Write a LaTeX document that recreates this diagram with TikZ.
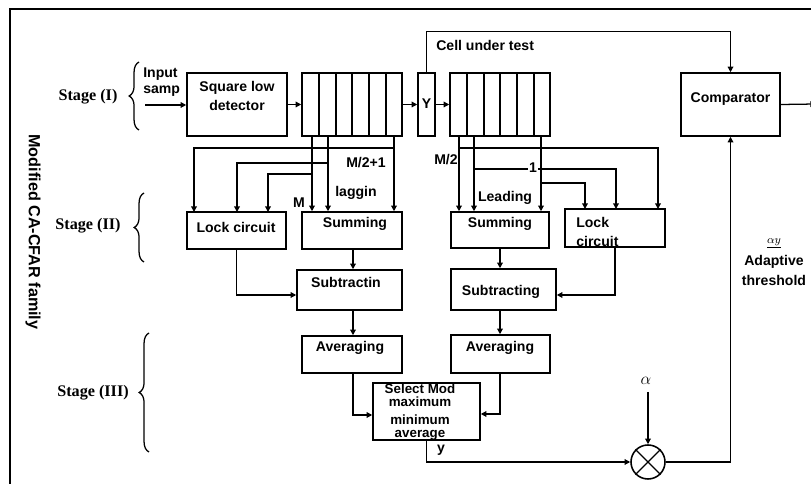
\documentclass[tikz,border=0pt]{standalone}
\usepackage{fontspec}
\setmainfont{Liberation Sans}
\newfontfamily\serifb{Liberation Serif}
\usetikzlibrary{arrows.meta,fit,decorations.pathreplacing}
\begin{document}
\begin{tikzpicture}[x=0.025cm,y=-0.025cm,
  box/.style={draw,line width=1.1pt,inner sep=0pt},
  lbl/.style={font=\fontsize{10}{11}\selectfont\bfseries,inner sep=0pt,align=center},
  stg/.style={font=\serifb\fontsize{11.5}{12}\selectfont\bfseries,inner sep=0pt},
  ln/.style={line width=0.9pt},
  arr/.style={ln,-{Triangle[length=4pt,width=4pt]}},
  brc/.style={decorate,decoration={brace,amplitude=7pt},line width=0.9pt}]
\useasboundingbox (0,0) rectangle (811,484);
\clip (0,0) rectangle (811,484);
% frame
\draw[line width=1.3pt] (10,490) -- (10,9) -- (820,9);
% title
\node[rotate=-90,font=\fontsize{11.5}{12}\selectfont\bfseries] (title) at (33,232) {Modified CA-CFAR family};
% stage labels and braces
\node[stg] (s1) at (88,97) {Stage (I)};
\node[stg] (s2) at (88,226) {Stage (II)};
\node[stg] (s3) at (93,393) {Stage (III)};
\draw[brc] (139,130) -- (139,62);
\draw[brc] (144,262) -- (144,193);
\draw[brc] (149,452) -- (149,333);
% stage I
\node[lbl,align=left,anchor=west] (inp) at (143,82) {Input\\samp};
\coordinate (inA) at (145,105);
\node[box,fit={(187,73)(287,136)}] (sq) {};
\node[lbl] (sqt) at (237,96) {Square low\\[2pt]detector};
\node[box,fit={(302,73)(402,136)}] (reg1) {};
\foreach \xx in {319,336,352,369,386} \draw[ln] (\xx,73) -- (\xx,136);
\node[box,fit={(418,73)(435,136)}] (Y) {};
\node[lbl] (Yt) at (426.5,104) {Y};
\node[box,fit={(450,73)(550,136)}] (reg2) {};
\foreach \xx in {467,484,500,517,534} \draw[ln] (\xx,73) -- (\xx,136);
\node[box,fit={(681,73)(780,136)}] (cmp) {};
\node[lbl] (cmpt) at (730.5,99) {Comparator};
\coordinate (outE) at (816,104);
\draw[arr] (inA) -- (inA -| sq.west);
\draw[arr] (sq.east) -- (reg1.west);
\draw[arr] (reg1.east) -- (Y.west);
\draw[arr] (Y.east) -- (reg2.west);
\draw[arr] (cmp.east) -- (outE);
\draw[arr] (Y.north) -- ++(0,-41) -| (cmp.north);
\node[lbl,anchor=west] (cut) at (436,45) {Cell under test};
% stage II blocks
\node[box,fit={(187,212)(286,249)}] (lockL) {};
\node[lbl] (lockLt) at (236,227) {Lock circuit};
\node[box,fit={(302,212)(402,249)}] (sumL) {};
\node[lbl] (sumLt) at (355,224) {Summing};
\node[box,fit={(297,270)(402,310)}] (subL) {};
\node[lbl] (subLt) at (346,282) {Subtractin};
\node[box,fit={(451,212)(549,248)}] (sumR) {};
\node[lbl] (sumRt) at (500,224) {Summing};
\node[box,fit={(565,209)(665,247)}] (lockR) {};
\node[lbl,anchor=west,align=left] (lockRt) at (576,232) {Lock\\[2pt]circuit};
\node[box,fit={(451,269)(556,310)}] (subR) {};
\node[lbl] (subRt) at (501,292) {Subtracting};
% left register taps
\coordinate (c1) at (312,136); \coordinate (c2) at (328,136); \coordinate (c6) at (394,136);
\draw[arr] (c1) -- (c1 |- sumL.north);
\draw[arr] (c2) -- (c2 |- sumL.north);
\draw[arr] (c6) -- (c6 |- sumL.north);
\coordinate (b1) at (394,148); \coordinate (b2) at (328,163); \coordinate (b3) at (312,174);
\coordinate (t1) at (194,212); \coordinate (t2) at (237,212); \coordinate (t3) at (268,212);
\draw[arr] (b1) -| (t1);
\draw[arr] (b2) -| (t2);
\draw[arr] (b3) -| (t3);
\node[lbl] (m21) at (366,163) {M/2+1};
\node[lbl] (lag) at (356,193) {laggin};
\node[lbl] (mM) at (299,203) {M};
% right register taps
\coordinate (d1) at (459,136); \coordinate (d2) at (474,136); \coordinate (d6) at (541,136);
\draw[arr] (d1) -- (d1 |- sumR.north);
\draw[arr] (d2) -- (d2 |- sumR.north);
\draw[arr] (d6) -- (d6 |- sumR.north);
\coordinate (e1) at (459,148); \coordinate (e2) at (474,169); \coordinate (e6) at (541,183);
\coordinate (u1) at (658,209); \coordinate (u2) at (616,209); \coordinate (u3) at (585,209);
\draw[arr] (e1) -| (u1);
\draw[arr] (e2) -| (u2);
\draw[arr] (e6) -| (u3);
\node[lbl] (m2) at (446,160) {M/2};
\node[lbl,fill=white,inner sep=0.5pt] (one) at (533,168) {1};
\node[lbl] (lead) at (505,198) {Leading};
% stage II internal
\draw[arr] (sumL.south -| 353,0) -- (subL.north -| 353,0);
\draw[arr] (lockL.south) |- (subL.west |- 0,295);
\draw[arr] (sumR.south) -- (sumR.south |- subR.north);
\draw[arr] (lockR.south) |- (subR.east |- 0,295);
% stage III
\node[box,fit={(302,336)(402,373)}] (avL) {};
\node[lbl] (avLt) at (350,348) {Averaging};
\node[box,fit={(451,335)(550,373)}] (avR) {};
\node[lbl] (avRt) at (500,348) {Averaging};
\draw[arr] (subL.south -| 353,0) -- (avL.north -| 353,0);
\draw[arr] (subR.south -| 500,0) -- (avR.north -| 500,0);
\node[box,fit={(373,383)(480,440)}] (sel) {};
\node[lbl,font=\fontsize{9.5}{9.5}\selectfont\bfseries] (selt) at (420,412) {Select Mod\\maximum\\[3pt]minimum\\average};
\draw[arr] (avL.south -| 353,0) |- (sel.west |- 0,415);
\draw[arr] (avR.south -| 500,0) |- (sel.east |- 0,414);
% multiplier
\node[draw,circle,line width=1.1pt,minimum size=0.85cm,inner sep=0pt] (mul) at (648,462) {};
\draw[ln] (mul.north west) -- (mul.south east);
\draw[ln] (mul.north east) -- (mul.south west);
\node[lbl,font=\fontsize{13}{13}\selectfont] (alpha) at (646,381) {$\alpha$};
\draw[arr,shorten <=5pt] (alpha.south -| mul.north) -- (mul.north);
\draw[arr] (sel.south) |- (mul.west);
\node[lbl] (yl) at (441,450) {y};
\draw[arr] (mul.east) -| (cmp.south);
\node[lbl] (thr) at (774,262) {{\fontsize{8}{8}\selectfont\underline{$\alpha y$}}\\[5pt]Adaptive\\[3pt]threshold};
\end{tikzpicture}
\end{document}
